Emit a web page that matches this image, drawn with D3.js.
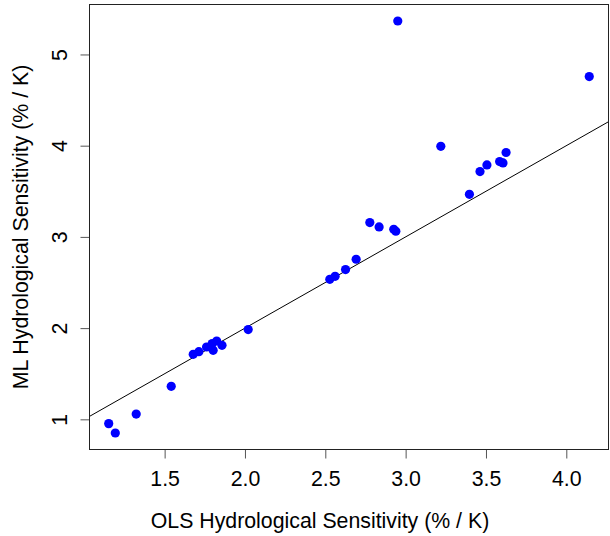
<!DOCTYPE html>
<html>
<head>
<meta charset="utf-8">
<script src="https://cdn.jsdelivr.net/npm/d3@7"></script>
<style>
  body { margin: 0; background: #fff; }
  text { font-family: "Liberation Sans", Arial, Helvetica, sans-serif; fill: #000; }
</style>
</head>
<body>
<div id="chart"></div>
<script>
// OLS vs ML hydrological sensitivity
const olsValues = [1.152, 1.193, 1.323, 1.541, 1.678, 1.713, 1.761, 1.802, 1.796, 1.824, 1.857,
    2.020, 2.528, 2.561, 2.626, 2.692, 2.777, 2.835, 2.926, 2.939, 2.951, 4.143,
    3.219, 3.397, 3.463, 3.506, 3.585, 3.606, 3.625];
const mlValues = [0.953, 0.850, 1.058, 1.362, 1.713, 1.742, 1.793, 1.757, 1.830, 1.859, 1.811,
    1.984, 2.535, 2.568, 2.642, 2.755, 3.157, 3.109, 3.084, 3.062, 5.367, 4.758,
    3.993, 3.467, 3.716, 3.789, 3.826, 3.811, 3.925];
const xTicks = [1.5, 2.0, 2.5, 3.0, 3.5, 4.0];
const yTicks = [1, 2, 3, 4, 5];
const xLabel = "OLS Hydrological Sensitivity (% / K)";
const yLabel = "ML Hydrological Sensitivity (% / K)";

const data = olsValues.map((x, i) => ({ x: x, y: mlValues[i] }));

const width = 610;
const height = 536;
const margin = { top: 4.5, right: 1.5, bottom: 86.5, left: 89.5 };

const svg = d3.select("#chart")
    .append("svg")
    .attr("width", width)
    .attr("height", height);

// R-style 4% padding around the data range
function padded(ext) {
    const d = (ext[1] - ext[0]) * 0.04;
    return [ext[0] - d, ext[1] + d];
}

const x = d3.scaleLinear()
    .domain(padded(d3.extent(olsValues)))
    .range([margin.left, width - margin.right]);

const y = d3.scaleLinear()
    .domain(padded(d3.extent(mlValues)))
    .range([height - margin.bottom, margin.top]);

const fontSize = 21.3;

// x axis
const xAxis = svg.append("g")
    .attr("transform", `translate(0,${height - margin.bottom})`)
    .call(d3.axisBottom(x).tickValues(xTicks).tickFormat(d3.format(".1f")).tickSize(9));
xAxis.select(".domain").remove();
xAxis.selectAll("line").attr("stroke", "#555");
xAxis.selectAll("text")
    .attr("font-size", fontSize)
    .attr("font-family", null)
    .attr("dy", null)
    .attr("y", 36);

// y axis, labels rotated like base R
const yAxis = svg.append("g")
    .attr("transform", `translate(${margin.left},0)`)
    .call(d3.axisLeft(y).tickValues(yTicks).tickFormat(d3.format("d")).tickSize(9));
yAxis.select(".domain").remove();
yAxis.selectAll("line").attr("stroke", "#555");
yAxis.selectAll("text")
    .attr("font-size", fontSize)
    .attr("font-family", null)
    .attr("x", null)
    .attr("dy", null)
    .attr("text-anchor", "middle")
    .attr("transform", "translate(-22.5,0) rotate(-90)");

// 1:1 line
svg.append("clipPath")
    .attr("id", "plot-clip")
    .append("rect")
    .attr("x", margin.left)
    .attr("y", margin.top)
    .attr("width", width - margin.left - margin.right)
    .attr("height", height - margin.top - margin.bottom);

const lim = x.domain();
svg.append("line")
    .attr("clip-path", "url(#plot-clip)")
    .attr("x1", x(lim[0]))
    .attr("y1", y(lim[0]))
    .attr("x2", x(lim[1]))
    .attr("y2", y(lim[1]))
    .attr("stroke", "#000")
    .attr("stroke-width", 1);

svg.selectAll(".pt")
    .data(data)
    .enter()
    .append("circle")
    .attr("class", "pt")
    .attr("cx", d => x(d.x))
    .attr("cy", d => y(d.y))
    .attr("r", 4.6)
    .attr("fill", "#0000ff");

// plot frame
svg.append("rect")
    .attr("x", margin.left)
    .attr("y", margin.top)
    .attr("width", width - margin.left - margin.right)
    .attr("height", height - margin.top - margin.bottom)
    .attr("fill", "none")
    .attr("stroke", "#222")
    .attr("stroke-width", 1);

// axis titles
svg.append("text")
    .attr("x", 320)
    .attr("y", 528)
    .attr("text-anchor", "middle")
    .attr("font-size", fontSize)
    .text(xLabel);

svg.append("text")
    .attr("transform", `translate(28,${(margin.top + height - margin.bottom) / 2}) rotate(-90)`)
    .attr("text-anchor", "middle")
    .attr("font-size", fontSize)
    .text(yLabel);
</script>
</body>
</html>
